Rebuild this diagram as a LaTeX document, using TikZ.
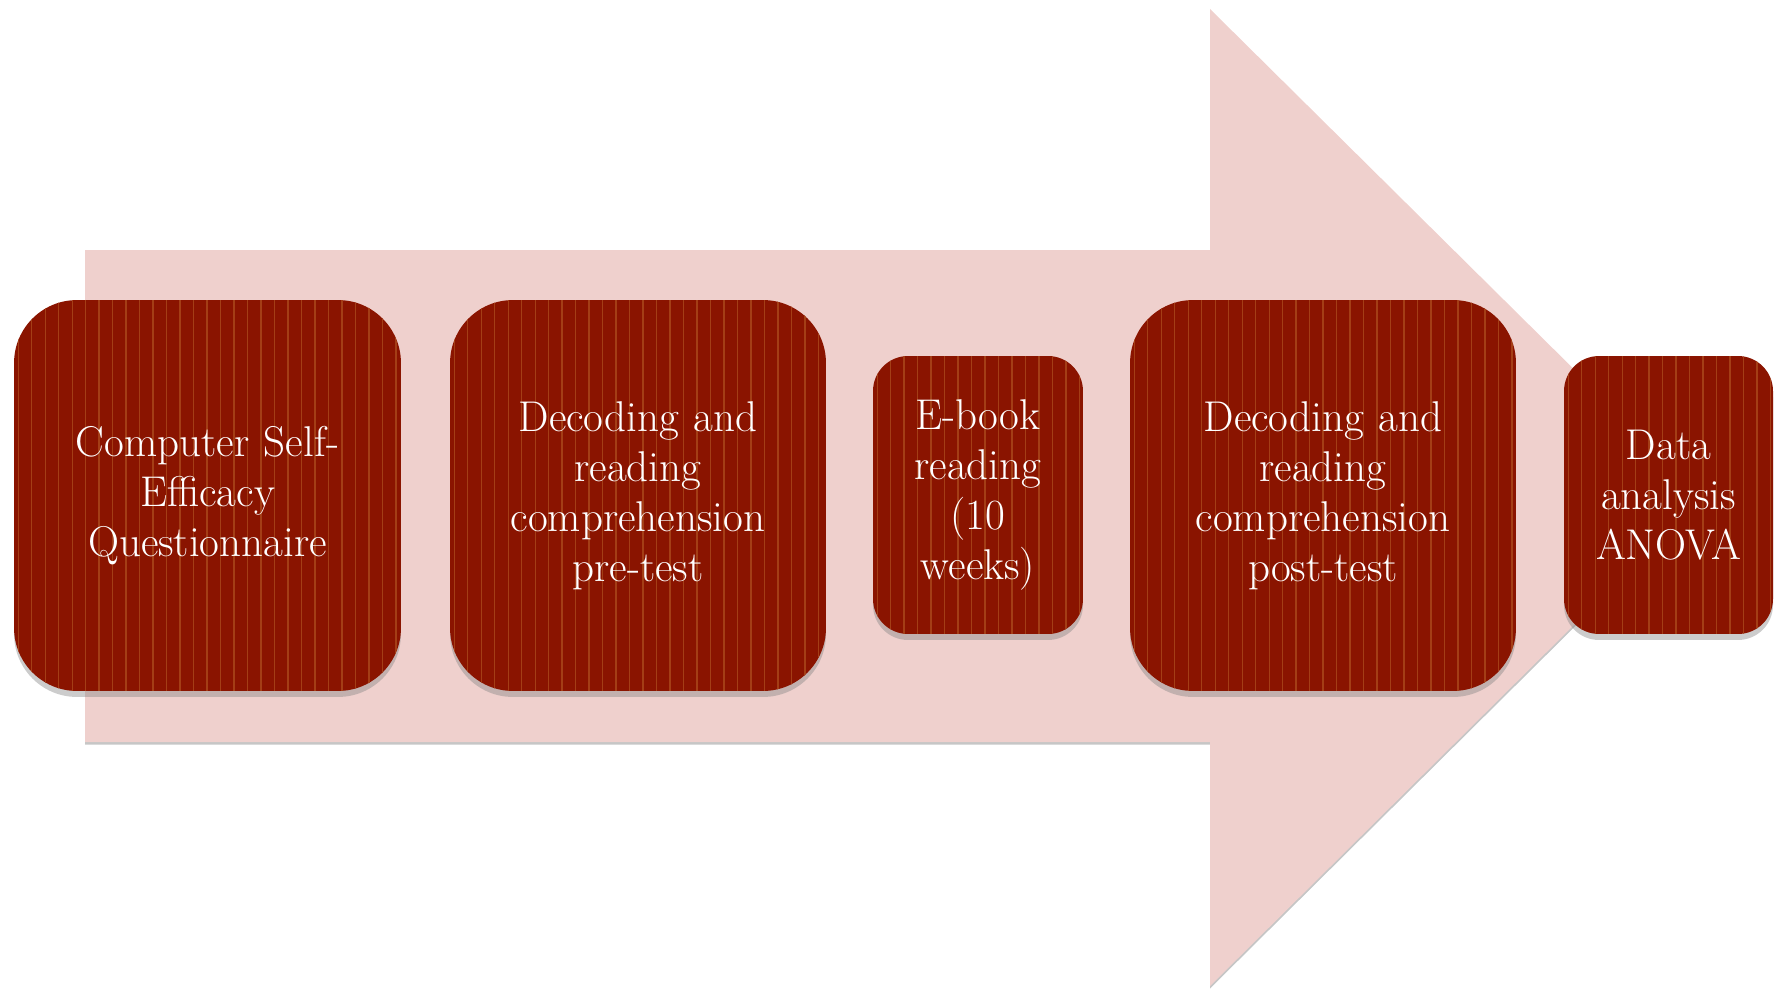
\documentclass[tikz,border=0pt]{standalone}
\usepackage{tikz}
\usetikzlibrary{shadows}

\definecolor{arrowpink}{HTML}{EFD0CD}
\definecolor{boxred}{HTML}{8A1400}
\definecolor{stripered}{HTML}{A43E16}

\tikzstyle{every node} = [
		font = \fontsize{24.5}{28.5}\selectfont,
		inner sep = 0pt,
	]
\tikzstyle{stepbox} = [
		rectangle,
		rounded corners = 1.26cm,
		fill = boxred,
		text = white,
		align = center,
		minimum height = 7.82cm,
		drop shadow = {shadow xshift = 0cm, shadow yshift = -.12cm, opacity = .4},
		path picture = {
			\foreach \i in {0,...,36}
				\draw [stripered, line width = .6pt]
					([xshift = \i*.27cm + .08cm]path picture bounding box.south west) --
					([xshift = \i*.27cm + .08cm]path picture bounding box.north west);
		}
	]
\tikzstyle{smallbox} = [
		stepbox,
		rounded corners = .7cm,
		minimum height = 5.56cm
	]

\begin{document}
\begin{tikzpicture}[x = .02cm, y = -.02cm]

	\useasboundingbox (0,0) rectangle (1785,990);

		%------------------------------Arrow------------------------------
		\fill [arrowpink, drop shadow = {shadow xshift = 0cm, shadow yshift = -.05cm, opacity = .45}]
			(85,250) -- (1210,250) -- (1210,9) -- (1703,497) -- (1210,986) -- (1210,742) -- (85,742) -- cycle;

		%------------------------------Steps------------------------------
		\node [stepbox, text width = 7.74cm] (csq) at (207.5,495.5)
			{Computer Self-\\Efficacy\\Questionnaire};
		\node [stepbox, text width = 7.52cm] (pretest) at (638,495.5)
			{Decoding and\\reading\\comprehension\\pre-test};
		\node [smallbox, text width = 4.2cm] (ebook) at (978,495)
			{E-book\\reading\\(10\\weeks)};
		\node [stepbox, text width = 7.72cm] (posttest) at (1323,495.5)
			{Decoding and\\reading\\comprehension\\post-test};
		\node [smallbox, text width = 4.18cm] (anova) at (1668.5,495)
			{Data\\analysis\\ANOVA};

\end{tikzpicture}
\end{document}
